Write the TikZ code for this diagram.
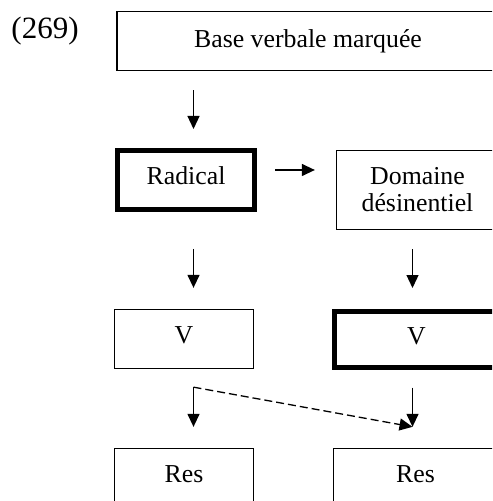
\documentclass[tikz,border=0pt]{standalone}
\usepackage{fontspec}
\setmainfont{Liberation Serif}
\usetikzlibrary{arrows.meta,calc}
\begin{document}
\begin{tikzpicture}[x=0.5pt,y=-0.5pt,
  box/.style={draw, rectangle, inner sep=0pt, line width=0.65pt,
    font=\fontsize{12.9}{13.5}\selectfont, align=center},
  thickbox/.style={box, line width=2.5pt},
  lifted/.style={text height=9pt, text depth=4.5pt},
  arr/.style={-{Triangle[length=6.5pt,width=6pt]}, line width=0.65pt},
  dasharr/.style={arr, dash pattern=on 4pt off 2pt}]
\clip (0,0) rectangle (492,501);
\useasboundingbox (0,0) rectangle (492,501);
\node (num) at (45,31) {\fontsize{15.5}{18}\selectfont (269)};
\node[box, minimum width=191pt, minimum height=29.5pt] (top) at (308,41) {Base verbale marquée};
\node[thickbox, lifted, minimum width=68.5pt, minimum height=29.5pt] (rad) at (186,180) {Radical};
\node[box, minimum width=81pt, minimum height=39.5pt] (dom) at (417.5,190) {Domaine\\désinentiel};
\node[box, lifted, minimum width=69.5pt, minimum height=29.5pt] (vl) at (184,339) {V};
\node[thickbox, lifted, minimum width=82pt, minimum height=28pt] (vr) at (416.5,339.5) {V};
\node[box, lifted, minimum width=69.5pt, minimum height=29.5pt] (resl) at (184,478) {Res};
\node[box, lifted, minimum width=82pt, minimum height=29.5pt] (resr) at (415.5,478) {Res};
\coordinate (lx) at (193.5,0);
\coordinate (rx) at (412.5,0);
\draw[arr, shorten <=9.5pt, shorten >=9.5pt] (top.south -| lx) -- (rad.north -| lx);
\draw[arr, shorten <=9pt, shorten >=10.5pt] (rad.east |- 0,170) -- (dom.west |- 0,170);
\draw[arr, shorten <=18.5pt, shorten >=10.5pt] (rad.south -| lx) -- (vl.north -| lx);
\draw[arr, shorten <=9.5pt, shorten >=10.5pt] (dom.south -| rx) -- (vr.north -| rx);
\draw[arr, shorten <=8.75pt, shorten >=10.5pt] (vl.south -| lx) -- (resl.north -| lx);
\draw[arr, shorten <=8.75pt, shorten >=10.5pt] (vr.south -| rx) -- (resr.north -| rx);
\draw[dasharr] ($(vl.south -| lx)+(0,18)$) -- ($(resr.north -| rx)+(0,-21)$);
\end{tikzpicture}
\end{document}
